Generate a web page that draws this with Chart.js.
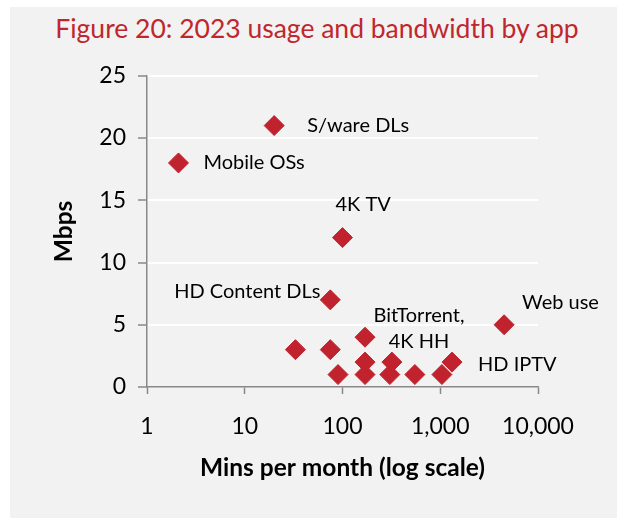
<!DOCTYPE html>
<html>
<head>
<meta charset="utf-8">
<script src="https://cdn.jsdelivr.net/npm/chart.js@4.4.0/dist/chart.umd.min.js"></script>
<style>
    html, body { margin: 0; padding: 0; background: #ffffff; }
    #panel { position: absolute; left: 10px; top: 7px; width: 607px; height: 511px; background: #f2f2f2; }
    #titulo { position: absolute; left: 10px; top: 12px; width: 614px; text-align: center;
              font-family: Lato, sans-serif; font-size: 26.5px; line-height: 32px; color: #c0272d; }
    #grafico { position: absolute; left: 10px; top: 50px; }
</style>
</head>
<body>
<div id="panel"></div>
<div id="titulo">Figure 20: 2023 usage and bandwidth by app</div>
<canvas id="grafico" width="607" height="468"></canvas>
<script>
// Datos
const minsPerMonth = [2.1, 20, 100, 75, 4500, 170, 33, 75, 170, 320, 1320, 90, 170, 305, 550, 1040];
const mbps = [18, 21, 12, 7, 5, 4, 3, 3, 2, 2, 2, 1, 1, 1, 1, 1];
const appLabels = ['Mobile OSs', 'S/ware DLs', '4K TV', 'HD Content DLs', 'Web use', 'BitTorrent,|4K HH',
    '', '', '', '', 'HD IPTV', '', '', '', '', ''];
const xTickValues = [1, 10, 100, 1000, 10000];
const xTickLabels = ['1', '10', '100', '1,000', '10,000'];

// Donde va cada etiqueta respecto a su punto
const labelPlacement = {
    'Mobile OSs': { dx: 25, dy: 0, align: 'left' },
    'S/ware DLs': { dx: 33, dy: 0, align: 'left' },
    '4K TV': { dx: -7, dy: -33, align: 'left' },
    'HD Content DLs': { dx: -10, dy: -8, align: 'right' },
    'Web use': { dx: 18, dy: -22, align: 'left' },
    'BitTorrent,|4K HH': { dx: 54, dy: -22, align: 'center', lineGap: 26 },
    'HD IPTV': { dx: 26, dy: 2, align: 'left' }
};

const rojo = '#c0222e';
const gris = '#888888';

const pointLabels = {
    id: 'pointLabels',
    afterDatasetsDraw(chart) {
        const ctx = chart.ctx;
        const meta = chart.getDatasetMeta(0);
        ctx.save();
        ctx.font = '20px Lato';
        ctx.fillStyle = '#000000';
        ctx.textBaseline = 'middle';
        appLabels.forEach((label, i) => {
            if (!label) return;
            const p = labelPlacement[label];
            const pt = meta.data[i];
            ctx.textAlign = p.align;
            label.split('|').forEach((line, j) => {
                ctx.fillText(line, pt.x + p.dx, pt.y + p.dy + j * (p.lineGap || 0));
            });
        });
        ctx.restore();
    }
};

const ctx = document.getElementById('grafico').getContext('2d');
new Chart(ctx, {
    type: 'scatter',
    data: {
        datasets: [{
            data: minsPerMonth.map((m, i) => ({ x: m, y: mbps[i] })),
            backgroundColor: rojo,
            borderColor: rojo,
            borderWidth: 1,
            pointStyle: 'rectRot',
            pointRadius: 10,
            pointHoverRadius: 10
        }]
    },
    options: {
        responsive: false,
        animation: false,
        devicePixelRatio: 1,
        layout: { padding: { top: 25, right: 79, left: 0, bottom: 0 } },
        plugins: {
            legend: { display: false },
            tooltip: { enabled: false }
        },
        scales: {
            x: {
                type: 'logarithmic',
                min: 1,
                max: 10000,
                afterFit: (scale) => { scale.height = 131; },
                afterBuildTicks: (scale) => { scale.ticks = xTickValues.map(v => ({ value: v })); },
                grid: { drawOnChartArea: false, drawTicks: true, tickLength: 7, tickColor: gris, tickWidth: 1.5 },
                border: { color: gris, width: 1.5 },
                ticks: {
                    padding: 19,
                    color: '#000000',
                    font: { family: 'Lato', size: 23 },
                    autoSkip: false,
                    maxRotation: 0,
                    callback: (value) => xTickLabels[xTickValues.indexOf(value)]
                },
                title: {
                    display: true,
                    text: 'Mins per month (log scale)',
                    color: '#000000',
                    font: { family: 'Lato', size: 24.5, weight: 'bold' },
                    padding: { top: 0, bottom: 35 }
                }
            },
            y: {
                min: 0,
                max: 25,
                afterFit: (scale) => { scale.width = 137; },
                grid: {
                    color: (c) => c.tick && c.tick.value === 0 ? 'rgba(0,0,0,0)' : '#ffffff',
                    lineWidth: 2,
                    tickColor: gris,
                    tickWidth: 1.5,
                    tickLength: 9
                },
                border: { color: gris, width: 1.5 },
                ticks: {
                    stepSize: 5,
                    padding: 12,
                    color: '#000000',
                    font: { family: 'Lato', size: 23 }
                },
                title: {
                    display: true,
                    text: 'Mbps',
                    color: '#000000',
                    font: { family: 'Lato', size: 24.5, weight: 'bold' },
                    padding: { top: 39, bottom: 0 }
                }
            }
        }
    },
    plugins: [pointLabels]
});
</script>
</body>
</html>
